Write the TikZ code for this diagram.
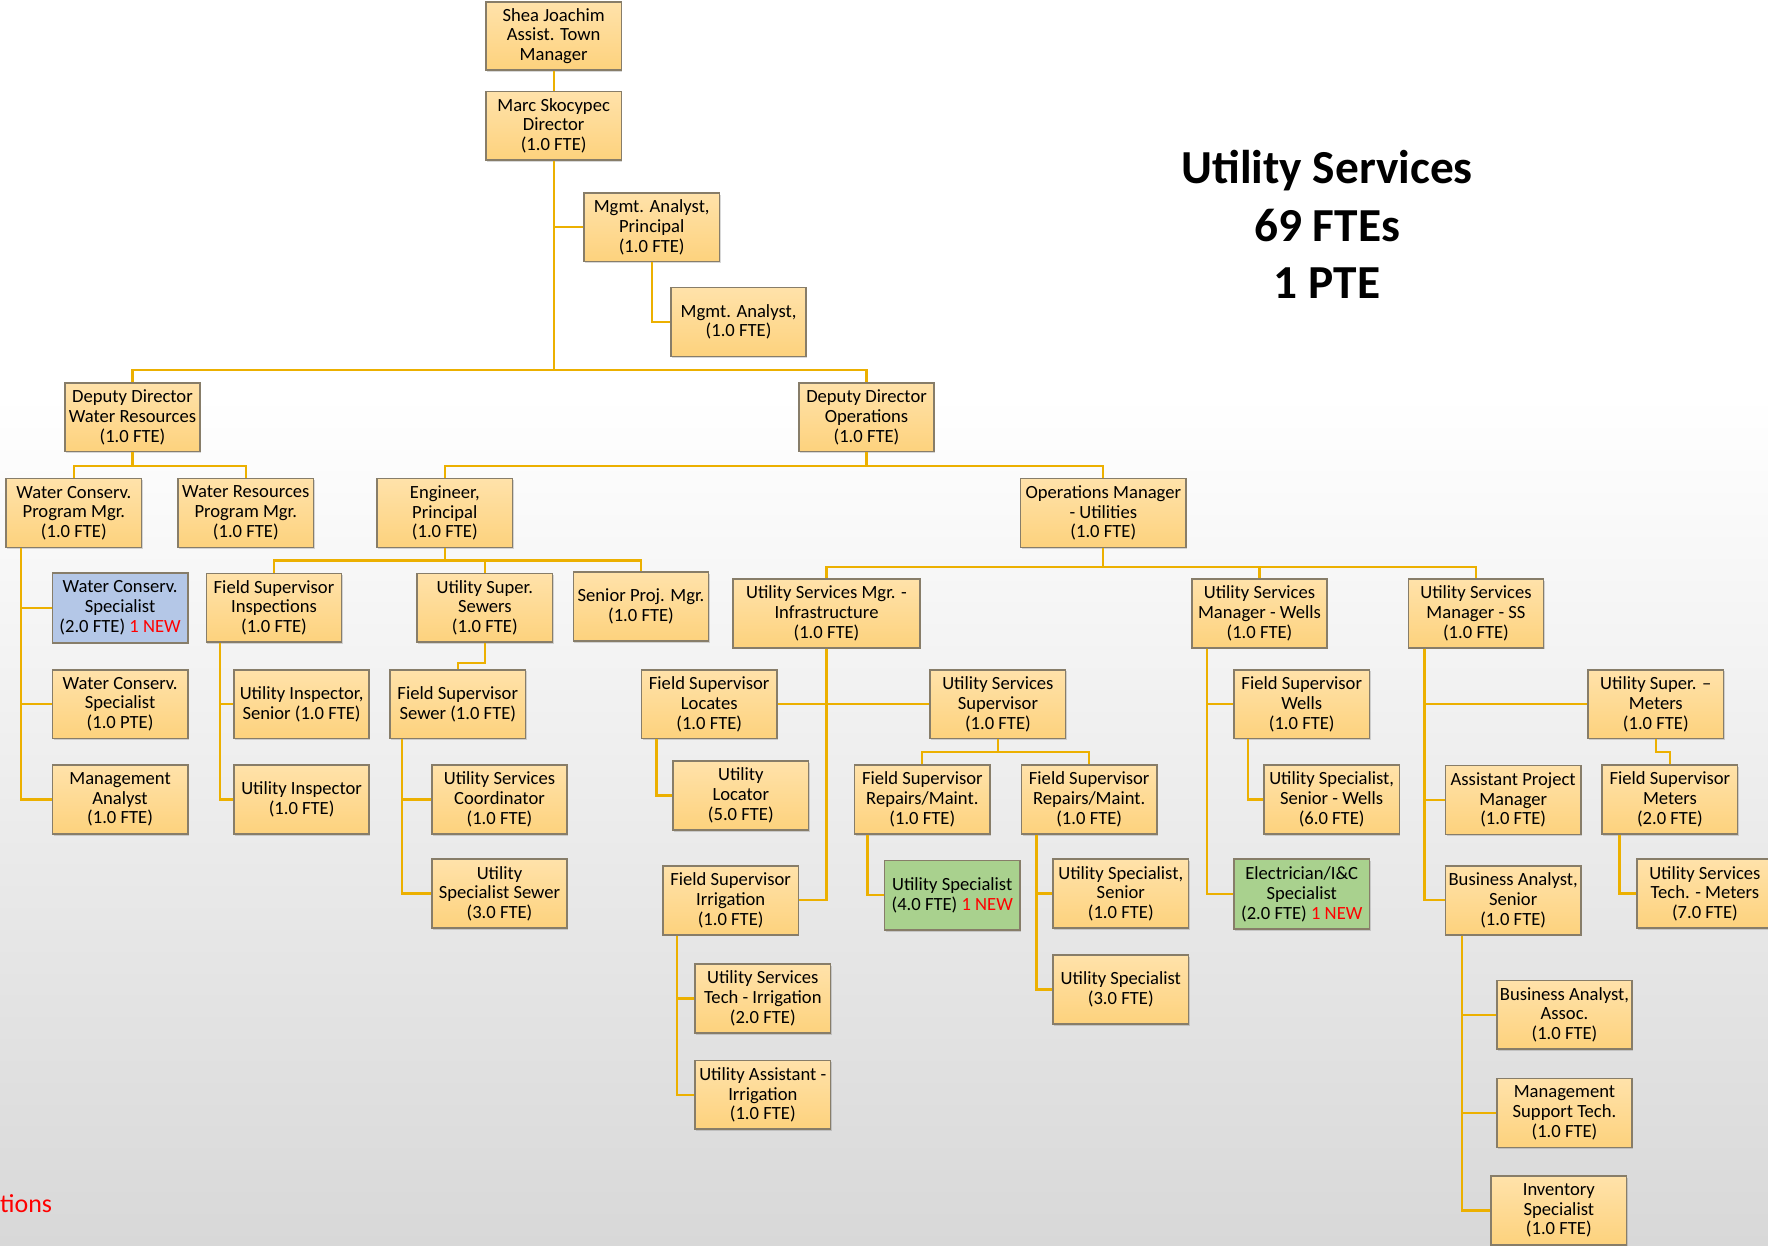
\documentclass[tikz,border=0pt]{standalone}
\usepackage{fontspec}
\setmainfont{Carlito}
\usetikzlibrary{shadows,calc}
\definecolor{lineC}{RGB}{236,176,0}
\definecolor{boxB}{RGB}{135,125,105}
\definecolor{fillT}{RGB}{255,226,170}
\definecolor{fillB}{RGB}{253,210,125}
\definecolor{blueC}{RGB}{180,199,231}
\definecolor{greenC}{RGB}{169,209,142}
\definecolor{bgG}{RGB}{216,216,216}
\newcommand\newtag{\textcolor{red}{1 NEW}}
\begin{document}
\begin{tikzpicture}[x=1pt,y=-1pt,
  box/.style={draw=boxB, line width=1.4pt, top color=fillT, bottom color=fillB,
    minimum width=120pt, minimum height=61pt, inner sep=0pt, align=center,
    font=\fontsize{16.5}{17.5}\selectfont,
    drop shadow={shadow xshift=1pt, shadow yshift=-1.5pt, opacity=0.25, fill=black!60}},
  bluebox/.style={box, top color=blueC, bottom color=blueC, minimum height=62pt},
  greenbox/.style={box, top color=greenC, bottom color=greenC, minimum height=62pt},
  conn/.style={draw=lineC, line width=2pt}]
\useasboundingbox (0,0) rectangle (1568,1105);
\fill[white] (0,0) rectangle (1568,350);
\shade[top color=white, bottom color=bgG] (0,350) rectangle (1568,1105);

% title
\node[font=\fontsize{42}{51}\selectfont\bfseries, align=center] (title) at (1177,199) {Utility Services\\69 FTEs\\1 PTE};
\node[anchor=base west, inner sep=0pt, text=red, font=\fontsize{23}{27}\selectfont] (tions) at (0,1075) {tions};

% nodes
\node[box, minimum height=60pt] (shea) at (491,32) {Shea Joachim\\Assist. Town\\Manager};
\node[box] (marc) at (491,111.5) {Marc Skocypec\\Director\\(1.0 FTE)};
\node[box] (map) at (578,201.5) {Mgmt. Analyst,\\Principal\\(1.0 FTE)};
\node[box] (ma) at (655,285.5) {Mgmt. Analyst,\\(1.0 FTE)};
\node[box] (ddwr) at (117.5,370) {Deputy Director\\Water Resources\\(1.0 FTE)};
\node[box] (ddo) at (768.5,370) {Deputy Director\\Operations\\(1.0 FTE)};
\node[box] (wcpm) at (65.5,455) {Water Conserv.\\Program Mgr.\\(1.0 FTE)};
\node[box] (wrpm) at (218,455) {Water Resources\\Program Mgr.\\(1.0 FTE)};
\node[box] (eng) at (394.5,455) {Engineer,\\Principal\\(1.0 FTE)};
\node[box, minimum width=147pt] (opsm) at (978.5,455) {Operations Manager\\- Utilities\\(1.0 FTE)};
\node[bluebox] (wcs1) at (106.5,539) {Water Conserv.\\Specialist\\(2.0 FTE) \newtag};
\node[box] (fsi) at (243,539) {Field Supervisor\\Inspections\\(1.0 FTE)};
\node[box] (uss) at (430,539) {Utility Super.\\Sewers\\(1.0 FTE)};
\node[box] (spm) at (568.5,538) {Senior Proj. Mgr.\\(1.0 FTE)};
\node[box, minimum width=166pt] (usmi) at (733,544) {Utility Services Mgr. -\\Infrastructure\\(1.0 FTE)};
\node[box] (usmw) at (1117,544) {Utility Services\\Manager - Wells\\(1.0 FTE)};
\node[box] (usmss) at (1309,544) {Utility Services\\Manager - SS\\(1.0 FTE)};
\node[box] (wcs2) at (106.5,624.5) {Water Conserv.\\Specialist\\(1.0 PTE)};
\node[box] (uis) at (267.5,624.5) {Utility Inspector,\\Senior (1.0 FTE)};
\node[box] (fss) at (406,624.5) {Field Supervisor\\Sewer (1.0 FTE)};
\node[box] (fsl) at (629,624.5) {Field Supervisor\\Locates\\(1.0 FTE)};
\node[box] (ussup) at (885,624.5) {Utility Services\\Supervisor\\(1.0 FTE)};
\node[box] (fsw) at (1154.5,624.5) {Field Supervisor\\Wells\\(1.0 FTE)};
\node[box] (usm) at (1468.5,624.5) {Utility Super. –\\Meters\\(1.0 FTE)};
\node[box] (ma2) at (106.5,709) {Management\\Analyst\\(1.0 FTE)};
\node[box] (ui) at (267.5,709) {Utility Inspector\\(1.0 FTE)};
\node[box] (usc) at (443,709) {Utility Services\\Coordinator\\(1.0 FTE)};
\node[box] (ul) at (657,705.5) {Utility\\Locator\\(5.0 FTE)};
\node[box] (fsrm1) at (818,709) {Field Supervisor\\Repairs/Maint.\\(1.0 FTE)};
\node[box] (fsrm2) at (966,709) {Field Supervisor\\Repairs/Maint.\\(1.0 FTE)};
\node[box] (ussw) at (1181,709) {Utility Specialist,\\Senior - Wells\\(6.0 FTE)};
\node[box] (apm) at (1342,709.5) {Assistant Project\\Manager\\(1.0 FTE)};
\node[box] (fsm) at (1481,709) {Field Supervisor\\Meters\\(2.0 FTE)};
\node[box] (uss3) at (443,792.5) {Utility\\Specialist Sewer\\(3.0 FTE)};
\node[box] (fsirr) at (648,798.5) {Field Supervisor\\Irrigation\\(1.0 FTE)};
\node[greenbox] (usg) at (844.5,794) {Utility Specialist\\(4.0 FTE) \newtag};
\node[box] (uss1) at (994,792.5) {Utility Specialist,\\Senior\\(1.0 FTE)};
\node[greenbox] (elec) at (1154.5,793) {Electrician/I\&C\\Specialist\\(2.0 FTE) \newtag};
\node[box] (bas) at (1342,798.5) {Business Analyst,\\Senior\\(1.0 FTE)};
\node[box] (ustm) at (1512,792.5) {Utility Services\\Tech. - Meters\\(7.0 FTE)};
\node[box] (usti) at (676.5,885.5) {Utility Services\\Tech - Irrigation\\(2.0 FTE)};
\node[box] (us3) at (994,877.5) {Utility Specialist\\(3.0 FTE)};
\node[box] (baa) at (1387.5,900) {Business Analyst,\\Assoc.\\(1.0 FTE)};
\node[box] (uai) at (676.5,971) {Utility Assistant -\\Irrigation\\(1.0 FTE)};
\node[box] (mst) at (1387.5,987) {Management\\Support Tech.\\(1.0 FTE)};
\node[box] (inv) at (1382.5,1073.5) {Inventory\\Specialist\\(1.0 FTE)};

% connectors
\draw[conn] (shea) -- (marc);
\coordinate (b0) at (491,328);
\draw[conn] (marc.south) -- (b0);
\draw[conn] (marc.south |- map.west) -- (map.west);
\draw[conn] (map.south) |- (ma.west);
\draw[conn] (ddwr.north) |- (b0) -| (ddo.north);

\coordinate (b1) at (117.5,413);
\draw[conn] (ddwr.south) -- (b1);
\draw[conn] (wcpm.north) |- (b1) -| (wrpm.north);
\coordinate (b2) at (768.5,413);
\draw[conn] (ddo.south) -- (b2);
\draw[conn] (eng.north) |- (b2) -| (opsm.north);

\coordinate (s1) at ([xshift=13.5pt]wcpm.south west);
\draw[conn] (s1) |- (wcs1.west);
\draw[conn] (s1) |- (wcs2.west);
\draw[conn] (s1) |- (ma2.west);

\coordinate (b3) at (394.5,497);
\draw[conn] (eng.south) -- (b3);
\draw[conn] (fsi.north) |- (b3) -| (spm.north);
\draw[conn] (uss.north) -- (uss.north |- b3);

\coordinate (s2) at ([xshift=13pt]fsi.south west);
\draw[conn] (s2) |- (uis.west);
\draw[conn] (s2) |- (ui.west);

\coordinate (b4) at (430,588);
\draw[conn] (uss.south) -- (b4) -| (fss.north);
\coordinate (s3) at ([xshift=11pt]fss.south west);
\draw[conn] (s3) |- (usc.west);
\draw[conn] (s3) |- (uss3.west);

\coordinate (b5) at (978.5,503);
\draw[conn] (opsm.south) -- (b5);
\draw[conn] (usmi.north) |- (b5) -| (usmss.north);
\draw[conn] (usmw.north) -- (usmw.north |- b5);

\draw[conn] (usmi.south) |- (fsirr.east);
\draw[conn] (fsl.east) -- (ussup.west);
\coordinate (s4) at ([xshift=14pt]fsl.south west);
\draw[conn] (s4) |- (ul.west);

\coordinate (b6) at (885,667);
\draw[conn] (ussup.south) -- (b6);
\draw[conn] (fsrm1.north) |- (b6) -| (fsrm2.north);
\coordinate (s5) at ([xshift=12pt]fsrm1.south west);
\draw[conn] (s5) |- (usg.west);
\coordinate (s6) at ([xshift=14pt]fsrm2.south west);
\draw[conn] (s6) |- (uss1.west);
\draw[conn] (s6) |- (us3.west);

\coordinate (s7) at ([xshift=14pt]usmw.south west);
\draw[conn] (s7) |- (fsw.west);
\draw[conn] (s7) |- (elec.west);
\coordinate (s8) at ([xshift=13pt]fsw.south west);
\draw[conn] (s8) |- (ussw.west);

\coordinate (s9) at ([xshift=15pt]usmss.south west);
\draw[conn] (s9) |- (usm.west);
\draw[conn] (s9) |- (apm.west);
\draw[conn] (s9) |- (bas.west);
\coordinate (b7) at (1468.5,667);
\draw[conn] (usm.south) -- (b7) -| (fsm.north);
\coordinate (s10) at ([xshift=16pt]fsm.south west);
\draw[conn] (s10) |- (ustm.west);

\coordinate (s11) at ([xshift=13pt]fsirr.south west);
\draw[conn] (s11) |- (usti.west);
\draw[conn] (s11) |- (uai.west);

\coordinate (s12) at ([xshift=15pt]bas.south west);
\draw[conn] (s12) |- (baa.west);
\draw[conn] (s12) |- (mst.west);
\draw[conn] (s12) |- (inv.west);
\end{tikzpicture}
\end{document}
